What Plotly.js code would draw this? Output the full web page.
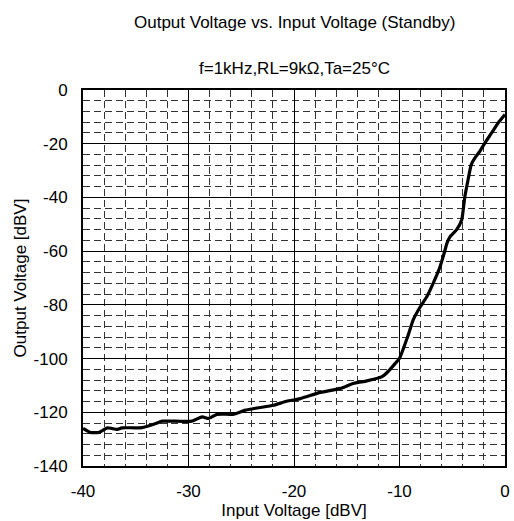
<!DOCTYPE html>
<html>
<head>
<meta charset="utf-8">
<script src="https://cdn.plot.ly/plotly-3.0.1.min.js"></script>
<style>html,body{margin:0;padding:0;background:#fff;}#chart{width:514px;height:521px;}</style>
</head>
<body>
<div id="chart"></div>
<script>
const inputVoltage = [-40, -39.3, -38.5, -37.7, -37.3, -36.8, -36.3, -34.4, -33.0, -32.5, -29.7, -28.7, -28.1, -27.3, -25.7, -24.6, -23.5, -21.95, -20.7, -19.4, -17.5, -15.6, -14.4, -13.1, -11.7, -11.1, -10.4, -10.0, -9.57, -9.17, -8.7, -8.06, -7.4, -6.8, -6.2, -5.76, -5.5, -5.2, -4.6, -4.1, -3.96, -3.8, -3.5, -3.2, -2.85, -2.38, -1.9, -1.27, -0.64, 0];
const outputVoltage = [-126.0, -127.5, -127.5, -125.8, -126.0, -126.4, -125.8, -125.7, -124.0, -123.3, -123.3, -121.7, -122.3, -120.8, -120.7, -119.2, -118.4, -117.4, -115.9, -114.9, -112.6, -111.1, -109.3, -108.3, -106.8, -104.9, -101.8, -99.9, -95.6, -91.2, -85.6, -80.9, -76.9, -71.9, -66.3, -60.7, -57.0, -54.6, -52.1, -48.3, -44.6, -39.6, -33.4, -27.8, -25.3, -22.8, -19.7, -16.0, -12.2, -9.1];
const xTicks = [-40, -30, -20, -10, 0];
const yTicks = [0, -20, -40, -60, -80, -100, -120, -140];
const mainTitle = 'Output Voltage vs. Input Voltage (Standby)';
const subTitle = 'f=1kHz,RL=9kΩ,Ta=25°C';
const xTitle = 'Input Voltage [dBV]';
const yTitle = 'Output Voltage [dBV]';

const font = {family: 'Liberation Sans, Arial, sans-serif', size: 17, color: '#000'};
const minorGrid = {showgrid: true, gridcolor: '#333', gridwidth: 1, griddash: '7px,4px', ticks: ''};

Plotly.newPlot('chart', [{
  x: inputVoltage, y: outputVoltage, type: 'scatter', mode: 'lines',
  line: {color: '#000', width: 3.2, shape: 'spline', smoothing: 0.5},
  hoverinfo: 'skip'
}], {
  width: 514, height: 521,
  margin: {l: 83, r: 9, t: 90, b: 55},
  paper_bgcolor: '#fff', plot_bgcolor: '#fff',
  showlegend: false,
  font: font,
  annotations: [
    {text: mainTitle, xref: 'paper', yref: 'paper', x: 0.5, y: 1, yshift: 68, showarrow: false, font: font, xanchor: 'center', yanchor: 'middle'},
    {text: subTitle, xref: 'paper', yref: 'paper', x: 0.5, y: 1, yshift: 22, showarrow: false, font: font, xanchor: 'center', yanchor: 'middle'}
  ],
  xaxis: {
    range: [-40, 0], tickvals: xTicks, ticktext: xTicks.map(String),
    showgrid: true, gridcolor: '#000', gridwidth: 1, zeroline: false,
    showline: true, linecolor: '#000', linewidth: 2, mirror: true,
    ticks: '', ticklabelstandoff: 9, tickfont: font,
    minor: Object.assign({}, minorGrid, {dtick: 2}),
    title: {text: xTitle, font: font, standoff: 1}
  },
  yaxis: {
    range: [-140, 0], tickvals: yTicks, ticktext: yTicks.map(String),
    showgrid: true, gridcolor: '#000', gridwidth: 1, zeroline: false,
    showline: true, linecolor: '#000', linewidth: 2, mirror: true,
    ticks: '', ticklabelstandoff: 10, tickfont: font,
    minor: Object.assign({}, minorGrid, {dtick: 4}),
    title: {text: yTitle, font: font, standoff: 3}
  }
}, {staticPlot: true, displayModeBar: false});
</script>
</body>
</html>
